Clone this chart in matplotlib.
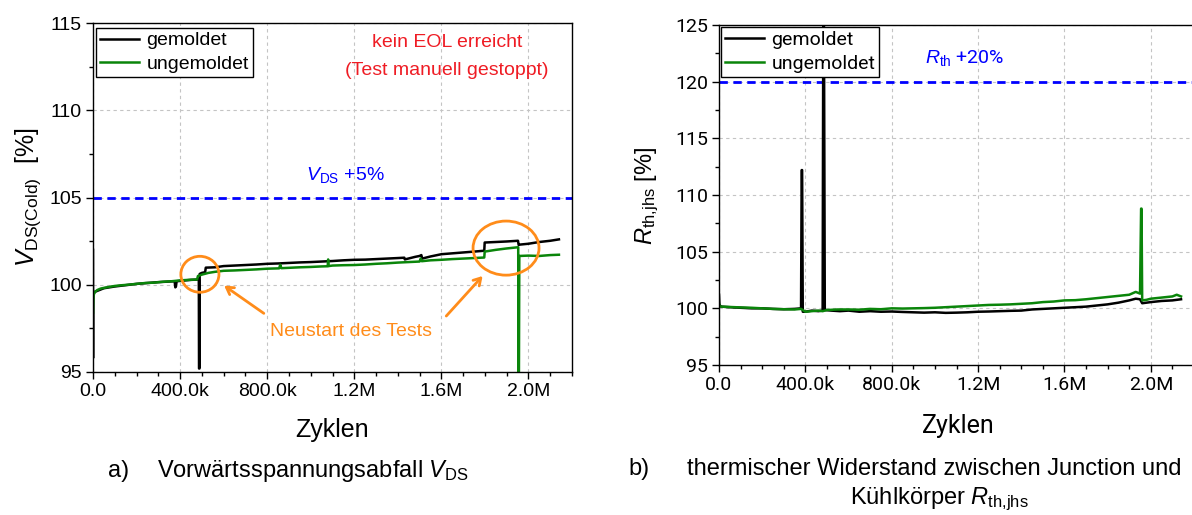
import matplotlib
matplotlib.use('Agg')
import matplotlib.pyplot as plt
from matplotlib.patches import Ellipse
from matplotlib.ticker import MultipleLocator

# -------------------------------------------------------------------------------
# Data (cycles in k, values in %)
# -------------------------------------------------------------------------------

vds_gem_x = [0, 0.3, 0.6, 1, 3, 10, 50, 100, 200, 300,
             375, 378, 381, 384, 400, 450, 486, 487, 489, 490,
             500, 515, 518, 560, 600, 650, 700, 750, 800, 850,
             900, 950, 1000, 1050, 1100, 1150, 1200, 1250, 1300, 1350,
             1400, 1430, 1432, 1480, 1500, 1508, 1512, 1550, 1600, 1650,
             1700, 1750, 1797, 1799, 1850, 1900, 1952, 1955, 1960, 2000,
             2050, 2100, 2140]
vds_gem_y = [102.0, 95.8, 99.2, 99.4, 99.5, 99.6, 99.8, 99.9, 100.05, 100.15,
             100.2, 99.85, 99.9, 100.2, 100.22, 100.28, 100.3, 95.2, 95.2, 100.62,
             100.68, 100.72, 100.98, 101.0, 101.07, 101.1, 101.13, 101.16, 101.2, 101.22,
             101.25, 101.28, 101.3, 101.33, 101.36, 101.4, 101.43, 101.44, 101.47, 101.5,
             101.53, 101.55, 101.45, 101.6, 101.65, 101.7, 101.5, 101.62, 101.75, 101.8,
             101.85, 101.9, 101.95, 102.42, 102.45, 102.48, 102.52, 102.28, 102.3, 102.35,
             102.45, 102.52, 102.6]

vds_ungem_x = [0, 0.5, 2, 5, 10, 20, 35, 50, 75, 100,
               130, 160, 200, 240, 280, 320, 360, 400, 440, 478,
               482, 500, 530, 560, 600, 650, 700, 750, 800, 855,
               860, 865, 900, 950, 1000, 1050, 1078, 1080, 1082, 1100,
               1150, 1200, 1250, 1300, 1350, 1400, 1450, 1500, 1505, 1510,
               1550, 1600, 1650, 1700, 1750, 1797, 1799, 1850, 1900, 1953,
               1954, 1956, 1958, 2000, 2050, 2100, 2140]
vds_ungem_y = [98.4, 98.8, 99.3, 99.5, 99.6, 99.7, 99.78, 99.82, 99.88, 99.93,
               99.97, 100.0, 100.05, 100.1, 100.12, 100.17, 100.2, 100.25, 100.28, 100.3,
               100.5, 100.58, 100.68, 100.74, 100.8, 100.82, 100.85, 100.88, 100.92, 100.94,
               101.15, 100.95, 100.97, 101.0, 101.02, 101.05, 101.06, 101.45, 101.07, 101.1,
               101.12, 101.13, 101.16, 101.2, 101.23, 101.27, 101.3, 101.33, 101.5, 101.35,
               101.4, 101.43, 101.47, 101.5, 101.53, 101.56, 101.9, 102.0, 102.08, 102.15,
               94.0, 94.0, 101.65, 101.67, 101.65, 101.7, 101.72]

rth_gem_x = [0, 2, 10, 50, 100, 150, 200, 250, 300, 350,
             380, 383, 385, 388, 400, 430, 460, 480, 483, 486,
             490, 520, 560, 600, 650, 700, 750, 800, 850, 900,
             950, 1000, 1050, 1100, 1150, 1200, 1250, 1300, 1350, 1400,
             1450, 1500, 1550, 1600, 1650, 1700, 1750, 1800, 1850, 1900,
             1930, 1950, 1960, 1980, 2000, 2050, 2100, 2140]
rth_gem_y = [101.2, 100.3, 100.15, 100.1, 100.05, 100.0, 100.0, 99.95, 99.92, 99.95,
             100.0, 112.2, 112.2, 99.7, 99.7, 99.8, 99.75, 99.8, 126.0, 126.0,
             99.85, 99.8, 99.75, 99.8, 99.7, 99.75, 99.7, 99.72, 99.68, 99.65,
             99.62, 99.65, 99.6, 99.62, 99.65, 99.7, 99.72, 99.75, 99.78, 99.8,
             99.9, 99.95, 100.0, 100.05, 100.1, 100.15, 100.25, 100.35, 100.5, 100.7,
             100.85, 100.8, 100.45, 100.5, 100.55, 100.65, 100.7, 100.8]

rth_ungem_x = [0, 2, 10, 50, 100, 150, 200, 250, 300, 350,
               380, 400, 430, 460, 480, 500, 550, 600, 650, 700,
               750, 800, 850, 900, 950, 1000, 1050, 1100, 1150, 1200,
               1250, 1300, 1350, 1400, 1450, 1500, 1550, 1600, 1650, 1700,
               1750, 1800, 1850, 1900, 1930, 1950, 1955, 1957, 1960, 1980,
               2000, 2050, 2100, 2120, 2140]
rth_ungem_y = [100.4, 100.2, 100.15, 100.12, 100.08, 100.05, 100.0, 99.95, 99.92, 99.9,
               99.95, 99.7, 99.75, 99.8, 99.75, 99.85, 99.9, 99.9, 99.88, 99.95,
               99.92, 100.0, 99.98, 100.0, 100.02, 100.05, 100.1, 100.15, 100.2, 100.25,
               100.3, 100.32, 100.35, 100.4, 100.45, 100.55, 100.6, 100.7, 100.72, 100.8,
               100.9, 101.0, 101.1, 101.2, 101.45, 101.3, 108.8, 108.8, 100.7, 100.75,
               100.85, 100.95, 101.05, 101.2, 101.05]

x_ticks = [0, 400e3, 800e3, 1.2e6, 1.6e6, 2.0e6]
x_tick_labels = ['0.0', '400.0k', '800.0k', '1.2M', '1.6M', '2.0M']
series_labels = ['gemoldet', 'ungemoldet']
vds_limit = 105
rth_limit = 120

# -------------------------------------------------------------------------------
# Style
# -------------------------------------------------------------------------------

plt.rcParams['font.family'] = 'Liberation Sans'
plt.rcParams['mathtext.fontset'] = 'custom'
plt.rcParams['mathtext.rm'] = 'Liberation Sans'
plt.rcParams['mathtext.it'] = 'Liberation Sans:italic'

C_BLACK = 'black'
C_GREEN = '#0a850a'
C_BLUE = '#0000ff'
C_RED = '#ef1c24'
C_ORANGE = '#ff8c1a'
W, H = 1192, 515

fig = plt.figure(figsize=(W / 100, H / 100), dpi=100)
ax1 = fig.add_axes([93 / W, 1 - 372 / H, 479 / W, 349 / H])
ax2 = fig.add_axes([719 / W, 1 - 365 / H, 475 / W, 340 / H])


def style_axes(ax, ylim, family):
    ax.set_xlim(0, 2.2e6)
    ax.set_ylim(*ylim)
    ax.set_xticks(x_ticks)
    ax.set_xticklabels(x_tick_labels)
    ax.xaxis.set_minor_locator(MultipleLocator(100e3))
    ax.yaxis.set_major_locator(MultipleLocator(5))
    ax.yaxis.set_minor_locator(MultipleLocator(2.5))
    ax.tick_params(which='major', direction='out', length=5, width=1, labelsize=14, pad=3)
    ax.tick_params(which='minor', direction='out', length=3, width=1)
    for lab in ax.get_xticklabels() + ax.get_yticklabels():
        lab.set_family(family)
    for s in ax.spines.values():
        s.set_linewidth(1)
    ax.grid(True, which='major', color='#c4c4c4', linestyle=(0, (3, 3)), linewidth=0.8)
    ax.set_axisbelow(True)


# -------------------------------------------------------------------------------
# a) V_DS
# -------------------------------------------------------------------------------

ax1.plot([x * 1e3 for x in vds_gem_x], vds_gem_y, color=C_BLACK, lw=1.8, label=series_labels[0])
ax1.plot([x * 1e3 for x in vds_ungem_x], vds_ungem_y, color=C_GREEN, lw=1.8, label=series_labels[1])
ax1.axhline(vds_limit, color=C_BLUE, lw=2, linestyle=(0, (3, 2)), zorder=1.5)
style_axes(ax1, (95, 115), 'Liberation Sans')

leg = ax1.legend(loc='upper left', bbox_to_anchor=(0.006, 0.986), borderaxespad=0, fontsize=14,
                 frameon=True, fancybox=False, framealpha=1, edgecolor='black', borderpad=0.2,
                 labelspacing=0.3, handlelength=2.0, handletextpad=0.4)
leg.get_frame().set_linewidth(1)

ax1.text(1.627e6, 113.9, 'kein EOL erreicht', color=C_RED, fontsize=14, ha='center', va='center')
ax1.text(1.627e6, 112.3, '(Test manuell gestoppt)', color=C_RED, fontsize=14, ha='center', va='center')
ax1.text(1.158e6, 106.3, r'$\mathit{V}_{\mathrm{DS}}$ +5%', color=C_BLUE, fontsize=14, ha='center', va='center')

# restart markers
ax1.add_patch(Ellipse((491e3, 100.6), 175e3, 2.06, fill=False, ec=C_ORANGE, lw=2, zorder=5))
ax1.add_patch(Ellipse((1.897e6, 102.1), 303e3, 3.1, fill=False, ec=C_ORANGE, lw=2, zorder=5))
ax1.text(1.186e6, 97.3, 'Neustart des Tests', color=C_ORANGE, fontsize=14, ha='center', va='center')
arrow = dict(arrowstyle='->,head_length=0.5,head_width=0.3', color=C_ORANGE, lw=2)
ax1.annotate('', xy=(592e3, 100.04), xytext=(795e3, 98.27), arrowprops=arrow)
ax1.annotate('', xy=(1.798e6, 100.62), xytext=(1.614e6, 98.09), arrowprops=arrow)

fig.text(28 / W, 1 - 197 / H, r'$\mathit{V}_{\mathrm{DS(Cold)}}$  [%]', rotation=90,
         fontsize=18, ha='center', va='center')
fig.text(332 / W, 1 - 437 / H, 'Zyklen', fontsize=18, ha='center', va='baseline')

# -------------------------------------------------------------------------------
# b) R_th
# -------------------------------------------------------------------------------

ax2.plot([x * 1e3 for x in rth_gem_x], rth_gem_y, color=C_BLACK, lw=1.8, label=series_labels[0])
ax2.plot([x * 1e3 for x in rth_ungem_x], rth_ungem_y, color=C_GREEN, lw=1.8, label=series_labels[1])
ax2.axhline(rth_limit, color=C_BLUE, lw=2, linestyle=(0, (3, 2)), zorder=1.5)
style_axes(ax2, (95, 125), 'Roboto')

leg2 = ax2.legend(loc='upper left', bbox_to_anchor=(0.004, 0.994), borderaxespad=0,
                  prop={'family': 'Roboto', 'size': 14},
                  frameon=True, fancybox=False, framealpha=1, edgecolor='black', borderpad=0.2,
                  labelspacing=0.3, handlelength=2.0, handletextpad=0.4)
leg2.get_frame().set_linewidth(1)

ax2.text(1.139e6, 122.1, r'$\mathit{R}_{\mathrm{th}}$ +20%', color=C_BLUE, fontsize=14,
         ha='center', va='center', family='Roboto')

fig.text(647 / W, 1 - 196 / H, r'$\mathit{R}_{\mathrm{th{,}jhs}}$ [%]', rotation=90,
         fontsize=17, ha='center', va='center')
fig.text(958 / W, 1 - 433 / H, 'Zyklen', fontsize=18, ha='center', va='baseline', family='Roboto')

# -------------------------------------------------------------------------------
# Captions
# -------------------------------------------------------------------------------

fig.text(108 / W, 1 - 477 / H, 'a)', fontsize=17, va='baseline')
fig.text(157 / W, 1 - 477 / H, r'Vorwärtsspannungsabfall $\mathit{V}_{\mathrm{DS}}$', fontsize=17, va='baseline')
fig.text(628 / W, 1 - 475 / H, 'b)', fontsize=17, va='baseline')
fig.text(934 / W, 1 - 475 / H, 'thermischer Widerstand zwischen Junction und', fontsize=17,
         ha='center', va='baseline')
fig.text(939 / W, 1 - 504 / H, r'Kühlkörper $\mathit{R}_{\mathrm{th{,}jhs}}$', fontsize=17,
         ha='center', va='baseline')

fig.savefig('out.png', dpi=100)
